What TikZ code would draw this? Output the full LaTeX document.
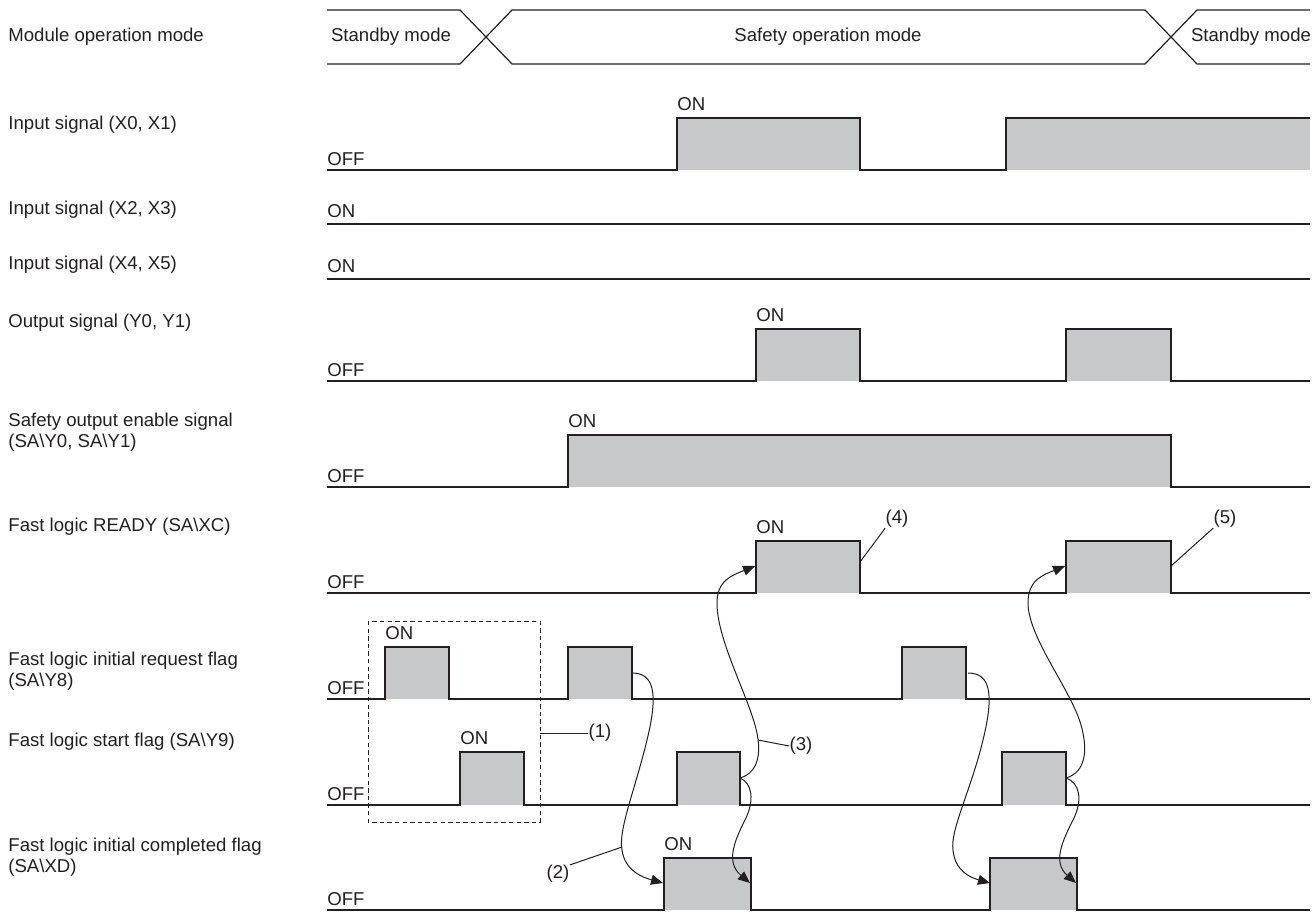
\documentclass[tikz,border=0pt]{standalone}
\usepackage{fontspec}
\setmainfont{Liberation Sans}
\usetikzlibrary{arrows.meta}
\definecolor{ink}{RGB}{35,31,32}
\definecolor{pgray}{RGB}{199,200,202}

\begin{document}
\begin{tikzpicture}[x=0.5pt,y=-0.5pt,>={Triangle[length=6pt,width=5pt]},
 every node/.style={font=\fontsize{9.3}{10.2}\selectfont,text=ink,inner sep=0pt},
 sig/.style={draw=ink,line width=0.75pt},
 flow/.style={draw=ink,line width=0.5pt},
 lbl/.style={anchor=west,align=left},
 lvl/.style={anchor=base west}]
\useasboundingbox (0,0) rectangle (1316,911);
\newcommand{\FLwave}[3]{% base, high, pulses
 \foreach \a/\b in {#3} {\fill[pgray] (\a,#1) rectangle (\b,#2);}
 \draw[sig] (327,#1) \foreach \a/\b in {#3} {-- (\a,#1) -- (\a,#2) -- (\b,#2) -- (\b,#1)} -- (1310,#1);}
% row labels
\node[lbl] (l-mode) at (8,37) {Module operation mode};
\node[lbl] (l-x0) at (8,125) {Input signal (X0, X1)};
\node[lbl] (l-x2) at (8,210) {Input signal (X2, X3)};
\node[lbl] (l-x4) at (8,265) {Input signal (X4, X5)};
\node[lbl] (l-y0) at (8,323) {Output signal (Y0, Y1)};
\node[lbl] (l-sa) at (8,432) {Safety output enable signal\\(SA\textbackslash Y0, SA\textbackslash Y1)};
\node[lbl] (l-xc) at (8,527) {Fast logic READY (SA\textbackslash XC)};
\node[lbl] (l-y8) at (8,671) {Fast logic initial request flag\\(SA\textbackslash Y8)};
\node[lbl] (l-y9) at (8,742) {Fast logic start flag (SA\textbackslash Y9)};
\node[lbl] (l-xd) at (8,857) {Fast logic initial completed flag\\(SA\textbackslash XD)};
% mode row
\draw[sig,line width=0.6pt] (327,10) -- (460,10) -- (512,64) -- (1145,64) -- (1197,10) -- (1310,10);
\draw[sig,line width=0.6pt] (327,64) -- (460,64) -- (512,10) -- (1145,10) -- (1197,64) -- (1310,64);
\node (m-sb1) at (391,37) {Standby mode};
\node (m-so) at (828,37) {Safety operation mode};
\node (m-sb2) at (1251,37) {Standby mode};
% X0, X1
\fill[pgray] (677,170) rectangle (860,118);
\fill[pgray] (1006,170) rectangle (1310,118);
\draw[sig] (327,170) -- (677,170) -- (677,118) -- (860,118) -- (860,170) -- (1006,170) -- (1006,118) -- (1310,118);
\node[lvl] (x0-off) at (327,165) {OFF};
\node[lvl] (x0-on) at (677,110) {ON};
% X2..X5
\draw[sig] (327,224) -- (1310,224);
\node[lvl] (x2-on) at (327,217) {ON};
\draw[sig] (327,279) -- (1310,279);
\node[lvl] (x4-on) at (327,272) {ON};
% Y0, Y1
\FLwave{381}{329}{756/860,1066/1171}
\node[lvl] (y0-off) at (327,376) {OFF};
\node[lvl] (y0-on) at (756,321) {ON};
% SA\Y0
\FLwave{487}{435}{568/1171}
\node[lvl] (sa-off) at (327,482) {OFF};
\node[lvl] (sa-on) at (568,427) {ON};
% READY
\FLwave{593}{541}{756/860,1066/1171}
\node[lvl] (xc-off) at (327,588) {OFF};
\node[lvl] (xc-on) at (756,533) {ON};
% Y8
\FLwave{699}{647}{385/449,568/632,902/966}
\node[lvl] (y8-off) at (327,694) {OFF};
\node[lvl] (y8-on) at (385,639) {ON};
% Y9
\FLwave{805}{752}{460/524,677/740,1002/1066}
\node[lvl] (y9-off) at (327,800) {OFF};
\node[lvl] (y9-on) at (460,744) {ON};
% XD
\FLwave{910}{858}{664/751,990/1077}
\node[lvl] (xd-off) at (327,905) {OFF};
\node[lvl] (xd-on) at (664,850) {ON};
% group (1)
\draw[ink,line width=0.5pt,dash pattern=on 2.2pt off 1.6pt] (368,621) rectangle (540,822);
\coordinate (grp) at (540,733);
\node (n1) at (600,733) {(1)};
\draw[flow] (grp) -- (n1.west);
% handshake curves
\coordinate (y8a) at (632,673); \coordinate (xda) at (663,883);
\coordinate (y8b) at (968,673); \coordinate (xdb) at (990,883);
\coordinate (y9a) at (740,778); \coordinate (xca) at (755,566); \coordinate (xda2) at (750,883);
\coordinate (y9b) at (1066,778); \coordinate (xcb) at (1065,566); \coordinate (xdb2) at (1076,883);
\draw[flow,->] (y8a) .. controls (655,673) and (658,695) .. (647,740) .. controls (635,790) and (618,830) .. (622,850) .. controls (625,872) and (645,878) .. (xda);
\draw[flow,->] (y8b) .. controls (991,673) and (994,695) .. (983,740) .. controls (971,790) and (950,830) .. (953,850) .. controls (955,872) and (972,878) .. (xdb);
\draw[flow,->] (y9a) .. controls (760,772) and (762,750) .. (755,725) .. controls (745,690) and (718,640) .. (717,605) .. controls (716,580) and (733,575) .. (xca);
\draw[flow,->] (y9a) .. controls (752,783) and (755,800) .. (745,820) .. controls (735,840) and (725,862) .. (xda2);
\draw[flow,->] (y9b) .. controls (1086,772) and (1088,750) .. (1081,725) .. controls (1071,690) and (1030,640) .. (1028,605) .. controls (1027,580) and (1043,575) .. (xcb);
\draw[flow,->] (y9b) .. controls (1080,783) and (1083,800) .. (1073,820) .. controls (1063,840) and (1052,862) .. (xdb2);
% callouts
\node (n2) at (558,874) {(2)};
\coordinate (c2) at (622,847);
\draw[flow] (n2.north east) -- (c2);
\node (n3) at (801,746) {(3)};
\coordinate (c3) at (758,740);
\draw[flow] (n3.west) -- (c3);
\node (n4) at (897,519) {(4)};
\coordinate (c4) at (860,562);
\draw[flow] (n4.south west) -- (c4);
\node (n5) at (1225,519) {(5)};
\coordinate (c5) at (1171,566);
\draw[flow] (n5.south west) -- (c5);
\end{tikzpicture}
\end{document}
